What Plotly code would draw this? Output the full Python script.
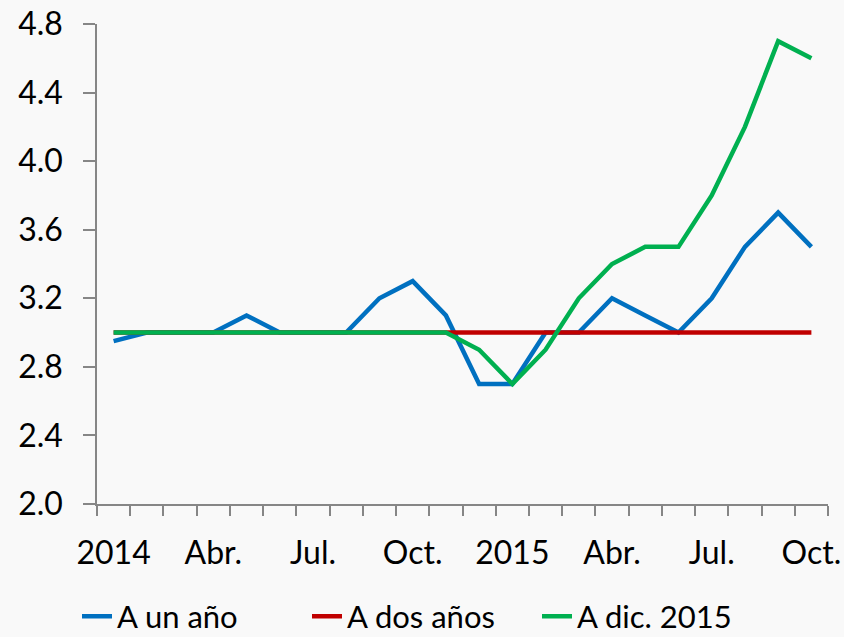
import plotly.graph_objects as go

months = ["Ene 2014", "Feb 2014", "Mar 2014", "Abr 2014", "May 2014", "Jun 2014",
          "Jul 2014", "Ago 2014", "Sep 2014", "Oct 2014", "Nov 2014", "Dic 2014",
          "Ene 2015", "Feb 2015", "Mar 2015", "Abr 2015", "May 2015", "Jun 2015",
          "Jul 2015", "Ago 2015", "Sep 2015", "Oct 2015"]
tick_labels = ["2014", "", "", "Abr.", "", "", "Jul.", "", "", "Oct.", "", "",
               "2015", "", "", "Abr.", "", "", "Jul.", "", "", "Oct."]

a_un_ano = [2.95, 3.0, 3.0, 3.0, 3.1, 3.0, 3.0, 3.0, 3.2, 3.3, 3.1, 2.7,
            2.7, 3.0, 3.0, 3.2, 3.1, 3.0, 3.2, 3.5, 3.7, 3.5]
a_dos_anos = [3.0] * 22
a_dic_2015 = [3.0, 3.0, 3.0, 3.0, 3.0, 3.0, 3.0, 3.0, 3.0, 3.0, 3.0, 2.9,
              2.7, 2.9, 3.2, 3.4, 3.5, 3.5, 3.8, 4.2, 4.7, 4.6]

y_ticks = [2.0, 2.4, 2.8, 3.2, 3.6, 4.0, 4.4, 4.8]

FONT = "Lato"
fig = go.Figure()
fig.add_trace(go.Scatter(x=months, y=a_un_ano, name="A un año", mode="lines",
                         line=dict(color="#0070C0", width=4.5)))
fig.add_trace(go.Scatter(x=months, y=a_dos_anos, name="A dos años", mode="lines",
                         line=dict(color="#C00000", width=4.5)))
fig.add_trace(go.Scatter(x=months, y=a_dic_2015, name="A dic. 2015", mode="lines",
                         line=dict(color="#00B050", width=4.5)))

fig.update_layout(
    width=844, height=637,
    paper_bgcolor="#F9F9F9", plot_bgcolor="#F9F9F9",
    margin=dict(l=97, r=16, t=24, b=133, autoexpand=False),
    font=dict(family=FONT, size=32, color="#000000"),
    showlegend=True,
    legend=dict(orientation="h", x=0.5, xanchor="center", xref="container",
                y=0.032, yanchor="middle", yref="container",
                font=dict(size=31), bgcolor="rgba(0,0,0,0)", itemwidth=30,
                entrywidth=185, tracegroupgap=0),
    xaxis=dict(
        type="category", tickmode="array", tickvals=months, ticktext=tick_labels,
        tickson="boundaries", ticks="outside", ticklen=10, tickwidth=1.5,
        tickcolor="#868686", showline=True, linecolor="#868686", linewidth=1.5,
        showgrid=False, zeroline=False, tickangle=0, ticklabelstandoff=20,
        range=[-0.5, 21.5],
    ),
    yaxis=dict(
        range=[2.0, 4.8], tickvals=y_ticks, tickformat=".1f",
        ticks="outside", ticklen=12, tickwidth=1.5, tickcolor="#868686",
        showline=True, linecolor="#868686", linewidth=1.5,
        showgrid=False, zeroline=False, ticklabelstandoff=14,
    ),
)

fig.write_html("out.html", config={"displayModeBar": False},
               post_script="document.body.style.margin='0';document.body.style.background='#F9F9F9';")
